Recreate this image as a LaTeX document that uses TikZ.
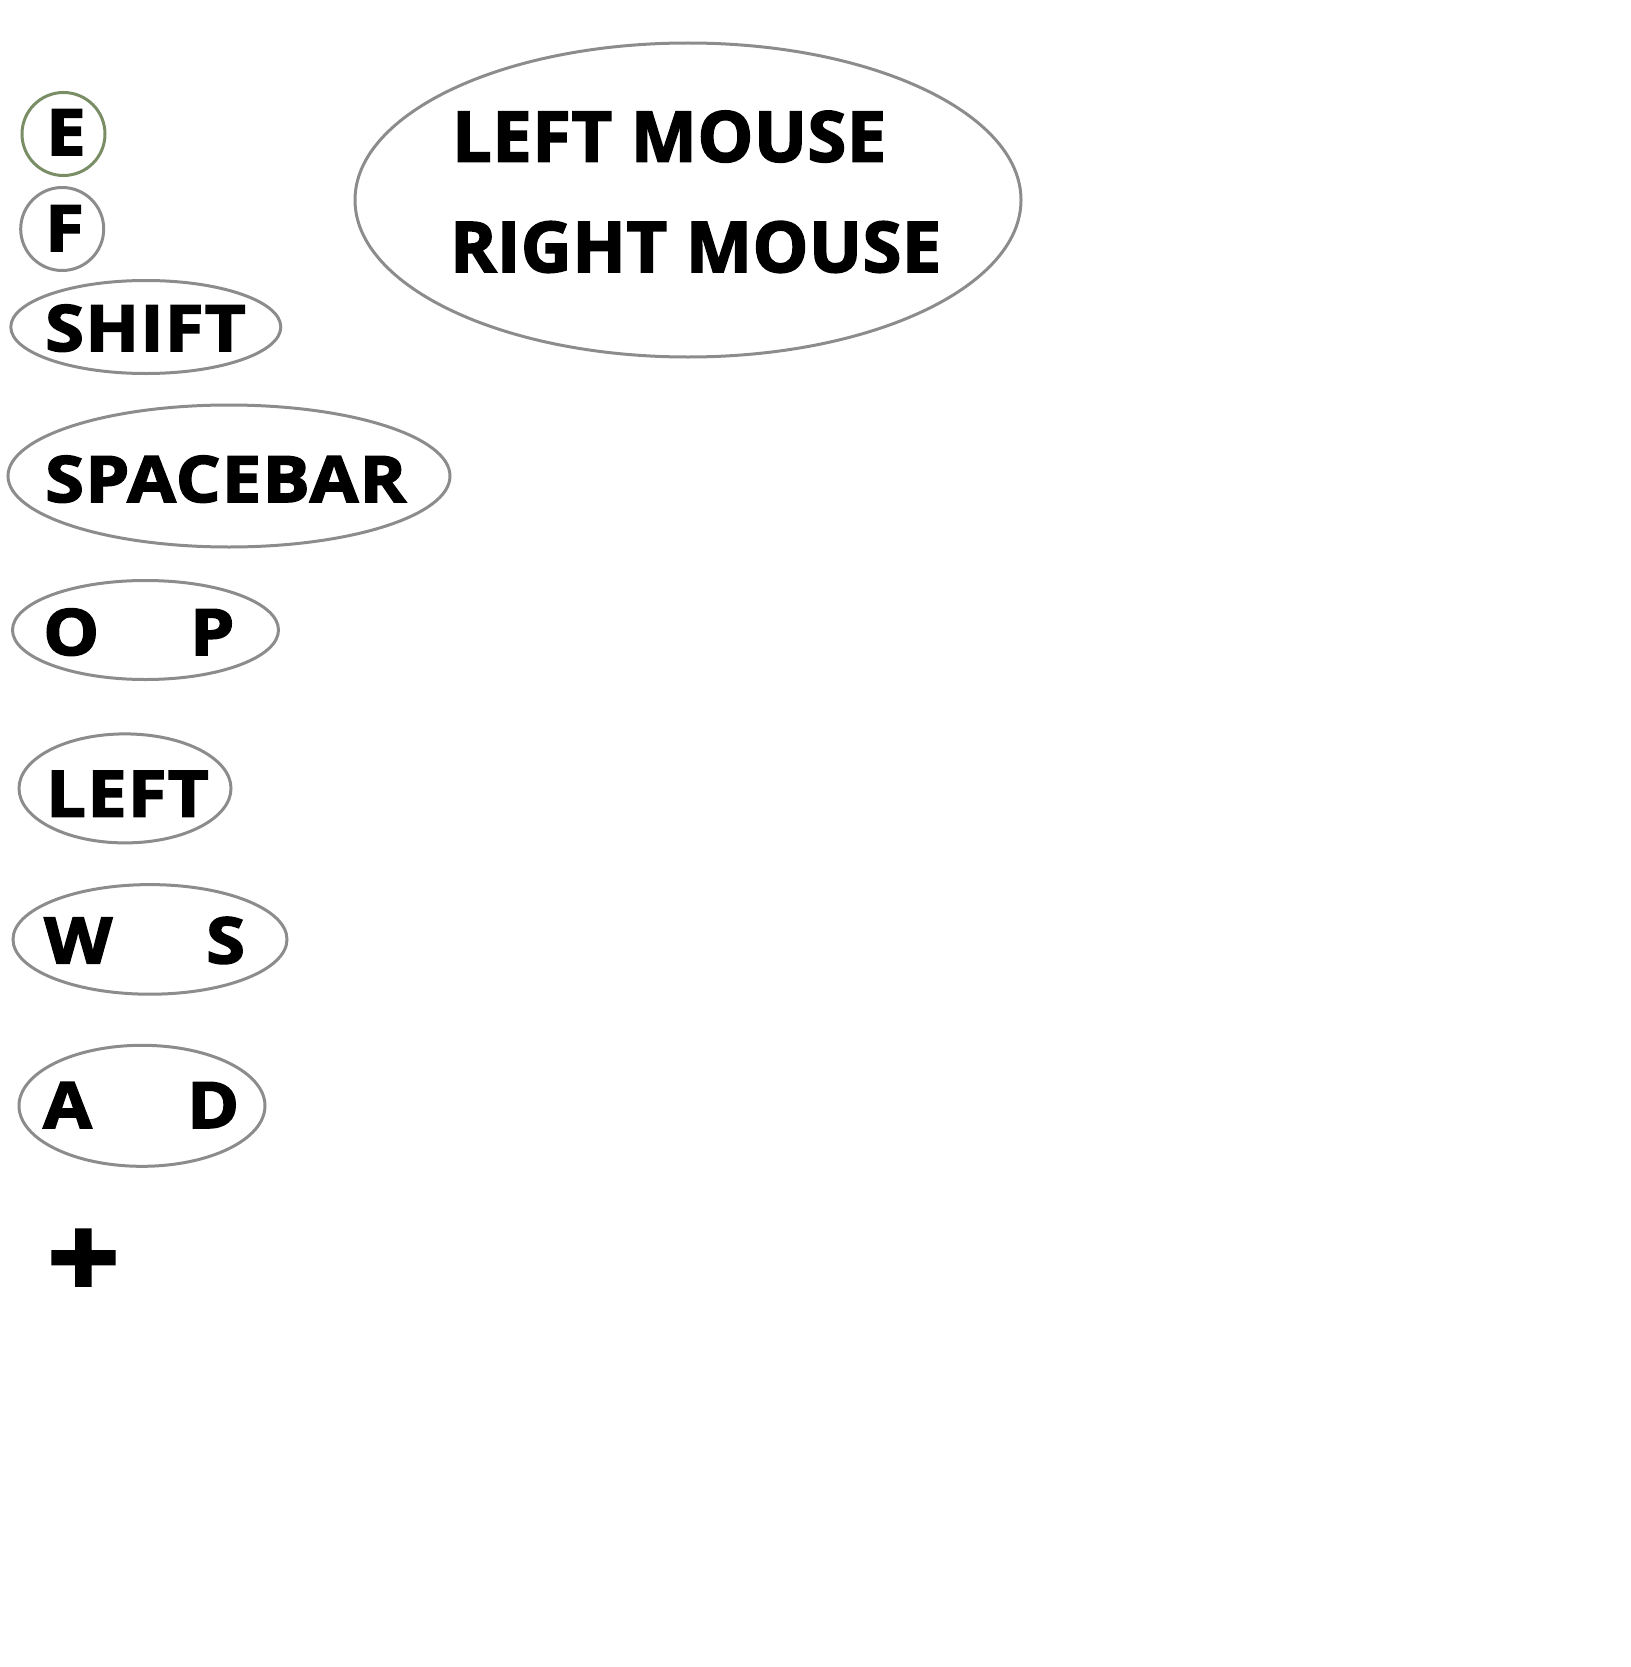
\documentclass[tikz,border=0pt]{standalone}
\usepackage{fontspec}
\setmainfont{Open Sans}
\newfontfamily\keyfont{Open Sans}[BoldFeatures={LetterSpace=2,FakeStretch=1.1,FakeBold=2.5}]
\newfontfamily\bigfont{Open Sans}[BoldFeatures={LetterSpace=1,FakeBold=2.5}]
\usetikzlibrary{shapes.geometric}
\definecolor{keygrey}{RGB}{140,140,140}
\definecolor{keygreen}{RGB}{122,142,102}
\tikzset{
  keyell/.style={ellipse, draw=keygrey, line width=3pt, inner sep=0pt},
  keytxt/.style={anchor=base west, inner sep=0pt, font=\fontsize{64}{64}\keyfont\bfseries},
  bigtxt/.style={anchor=base west, inner sep=0pt, font=\fontsize{70}{70}\bigfont\bfseries}
}
\begin{document}
\begin{tikzpicture}[x=1pt,y=-1pt]
\useasboundingbox (0,0) rectangle (1630,1667);
% ellipses
\node[keyell, circle, draw=keygreen, minimum size=83pt] (eKey) at (63.5,134) {};
\node[keyell, circle, minimum size=83pt] (fKey) at (62.2,229) {};
\node[keyell, minimum width=270pt, minimum height=93pt] (shiftKey) at (145.8,327) {};
\node[keyell, minimum width=442pt, minimum height=142pt] (spaceKey) at (229,476) {};
\node[keyell, minimum width=266pt, minimum height=99pt] (opKey) at (145.5,630) {};
\node[keyell, minimum width=212pt, minimum height=109pt] (leftKey) at (125,788.4) {};
\node[keyell, minimum width=274pt, minimum height=109.6pt] (wsKey) at (150,939.4) {};
\node[keyell, minimum width=246pt, minimum height=121pt] (adKey) at (142,1105.8) {};
\node[keyell, minimum width=666pt, minimum height=314pt] (mouseKey) at (688,200) {};
% texts
\node[keytxt] (eT) at (46,155) {E};
\node[keytxt] (fT) at (45,251) {F};
\node[keytxt] (shiftT) at (45,351) {SHIFT};
\node[keytxt] (spaceT) at (45,502) {SPACEBAR};
\node[keytxt] (oT) at (43,655) {O};
\node[keytxt] (pT) at (190,655) {P};
\node[keytxt] (leftT) at (46,816.6) {LEFT};
\node[keytxt] (wT) at (44,963.3) {W};
\node[keytxt] (sT) at (206,963.3) {S};
\node[keytxt] (aT) at (43,1128) {A};
\node[keytxt] (dT) at (187,1128) {D};
\node[anchor=center, inner sep=0pt, font=\fontsize{115}{115}\keyfont\bfseries] (plusT) at (83.4,1264) {+};
\node[bigtxt] (lmT) at (452,161.6) {LEFT MOUSE};
\node[bigtxt] (rmT) at (450,272) {RIGHT MOUSE};
\end{tikzpicture}
\end{document}
